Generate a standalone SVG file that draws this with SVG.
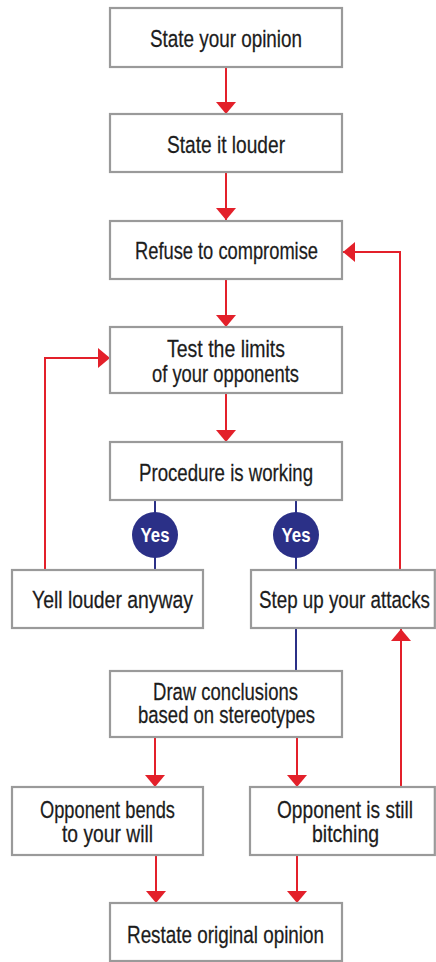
<svg xmlns="http://www.w3.org/2000/svg" width="436" height="962" viewBox="0 0 436 962">
<style>
.box{fill:#fff;stroke:#9a9a9a;stroke-width:2.2}
.t{font-family:"Liberation Sans",Arial,sans-serif;font-size:23.5px;fill:#1c1c1c;text-anchor:middle;stroke:#1c1c1c;stroke-width:0.25}
.red{fill:none;stroke:#e3202a;stroke-width:2}
.blue{fill:none;stroke:#2b3087;stroke-width:2}
.yes{fill:#2b3087}
.yt{font-family:"Liberation Sans",Arial,sans-serif;font-size:20.5px;font-weight:bold;fill:#fff;text-anchor:middle}
</style>
<defs>
<marker id="ah" markerUnits="userSpaceOnUse" markerWidth="13" markerHeight="20" refX="12" refY="10" orient="auto">
<path d="M0,0 L12,10 L0,20 z" fill="#e3202a"/>
</marker>
</defs>
<g id="connectors">
<line class="red" x1="226" y1="67" x2="226" y2="114" marker-end="url(#ah)"/>
<line class="red" x1="226" y1="172" x2="226" y2="220" marker-end="url(#ah)"/>
<line class="red" x1="226" y1="279" x2="226" y2="327" marker-end="url(#ah)"/>
<line class="red" x1="226" y1="393" x2="226" y2="442" marker-end="url(#ah)"/>
<polyline class="red" points="400,570 400,252 343,252" marker-end="url(#ah)"/>
<polyline class="red" points="45,570 45,358 110,358" marker-end="url(#ah)"/>
<line class="blue" x1="155" y1="500" x2="155" y2="570"/>
<line class="blue" x1="296" y1="500" x2="296" y2="570"/>
<line class="blue" x1="296" y1="628" x2="296" y2="671"/>
<line class="red" x1="155" y1="737" x2="155" y2="787" marker-end="url(#ah)"/>
<line class="red" x1="297" y1="737" x2="297" y2="787" marker-end="url(#ah)"/>
<line class="red" x1="401" y1="787" x2="401" y2="629" marker-end="url(#ah)"/>
<line class="red" x1="156" y1="855" x2="156" y2="903" marker-end="url(#ah)"/>
<line class="red" x1="297" y1="855" x2="297" y2="903" marker-end="url(#ah)"/>
</g>
<g id="n1"><rect class="box" x="110" y="8" width="232" height="59"/><text class="t" transform="translate(226,46.5) scale(0.82,1)" textLength="185.4" lengthAdjust="spacingAndGlyphs">State your opinion</text></g>
<g id="n2"><rect class="box" x="110" y="114" width="232" height="58"/><text class="t" transform="translate(226,152.5) scale(0.82,1)" textLength="143.9" lengthAdjust="spacingAndGlyphs">State it louder</text></g>
<g id="n3"><rect class="box" x="110" y="221" width="232" height="58"/><text class="t" transform="translate(226.5,259) scale(0.82,1)" textLength="223.2" lengthAdjust="spacingAndGlyphs">Refuse to compromise</text></g>
<g id="n4"><rect class="box" x="110" y="327" width="232" height="66"/><text class="t" transform="translate(226,356.5) scale(0.82,1)" textLength="143.9" lengthAdjust="spacingAndGlyphs">Test the limits</text><text class="t" transform="translate(225.5,381.5) scale(0.82,1)" textLength="179.3" lengthAdjust="spacingAndGlyphs">of your opponents</text></g>
<g id="n5"><rect class="box" x="110" y="442" width="232" height="58"/><text class="t" transform="translate(226,480.5) scale(0.82,1)" textLength="212.2" lengthAdjust="spacingAndGlyphs">Procedure is working</text></g>
<g id="yes1"><circle class="yes" cx="155" cy="535" r="23"/><text class="yt" transform="translate(155,542) scale(0.8,1)" textLength="36.25" lengthAdjust="spacingAndGlyphs">Yes</text></g>
<g id="yes2"><circle class="yes" cx="296" cy="535" r="23"/><text class="yt" transform="translate(296,542) scale(0.8,1)" textLength="36.25" lengthAdjust="spacingAndGlyphs">Yes</text></g>
<g id="n6"><rect class="box" x="12" y="570" width="191" height="58"/><text class="t" transform="translate(112.5,608) scale(0.82,1)" textLength="196.3" lengthAdjust="spacingAndGlyphs">Yell louder anyway</text></g>
<g id="n7"><rect class="box" x="251" y="570" width="183.8" height="58"/><text class="t" transform="translate(344.5,608) scale(0.82,1)" textLength="208.5" lengthAdjust="spacingAndGlyphs">Step up your attacks</text></g>
<g id="n8"><rect class="box" x="110" y="671" width="232" height="66"/><text class="t" transform="translate(225.5,699.5) scale(0.82,1)" textLength="176.8" lengthAdjust="spacingAndGlyphs">Draw conclusions</text><text class="t" transform="translate(226.5,723.3) scale(0.82,1)" textLength="215.9" lengthAdjust="spacingAndGlyphs">based on stereotypes</text></g>
<g id="n9"><rect class="box" x="12" y="787" width="191" height="68"/><text class="t" transform="translate(107.5,817.6) scale(0.82,1)" textLength="164.6" lengthAdjust="spacingAndGlyphs">Opponent bends</text><text class="t" transform="translate(107.5,841.7) scale(0.82,1)" textLength="111" lengthAdjust="spacingAndGlyphs">to your will</text></g>
<g id="n10"><rect class="box" x="250" y="787" width="184.8" height="68"/><text class="t" transform="translate(345,817.6) scale(0.82,1)" textLength="165.9" lengthAdjust="spacingAndGlyphs">Opponent is still</text><text class="t" transform="translate(345.5,841.7) scale(0.82,1)" textLength="81.7" lengthAdjust="spacingAndGlyphs">bitching</text></g>
<g id="n11"><rect class="box" x="110" y="903" width="232" height="58"/><text class="t" transform="translate(225.5,942.5) scale(0.82,1)" textLength="240.2" lengthAdjust="spacingAndGlyphs">Restate original opinion</text></g>
</svg>
